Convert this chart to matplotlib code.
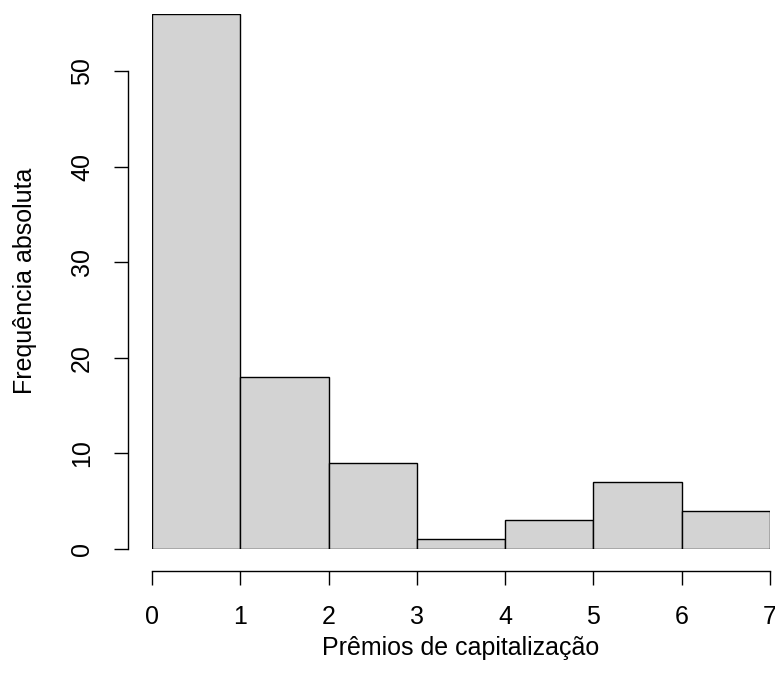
import numpy as np
import matplotlib
matplotlib.use("Agg")
import matplotlib.pyplot as plt

plt.rcParams["font.family"] = ["Liberation Sans", "DejaVu Sans"]

# histogram data
bin_edges = [0, 1, 2, 3, 4, 5, 6, 7]
counts = [56, 18, 9, 1, 3, 7, 4]
x_ticks = [0, 1, 2, 3, 4, 5, 6, 7]
y_ticks = [0, 10, 20, 30, 40, 50]

W, H = 775, 689
fig = plt.figure(figsize=(W / 100, H / 100), dpi=100)

# axes placed so data 0..7 / 0..56 lands where R put it
left, right = 152, 770
bottom, top = 549, 14
ax = fig.add_axes([left / W, 1 - bottom / H, (right - left) / W, (bottom - top) / H])

edges = np.array(bin_edges, dtype=float)
ax.bar(edges[:-1], counts, width=np.diff(edges), align="edge",
       color="#d3d3d3", edgecolor="black", linewidth=1.0)

ax.set_xlim(0, 7)
ax.set_ylim(0, 56)

px = 72 / 100  # points per pixel
for s in ["top", "right"]:
    ax.spines[s].set_visible(False)
ax.spines["bottom"].set_position(("outward", 22 * px))
ax.spines["left"].set_position(("outward", 24 * px))
ax.spines["bottom"].set_bounds(0, 7)
ax.spines["left"].set_bounds(0, 50)
for s in ["bottom", "left"]:
    ax.spines[s].set_linewidth(1.0)

fs = 18
ax.set_xticks(x_ticks)
ax.set_yticks(y_ticks)
ax.set_yticklabels([str(v) for v in y_ticks], rotation=90, va="center")
ax.tick_params(axis="both", labelsize=fs, length=14 * px, width=1.0, colors="black")
ax.tick_params(axis="both", pad=20 * px)

fig.text(461 / W, 1 - 648 / H, "Prêmios de capitalização", ha="center", va="center", fontsize=fs)
fig.text(25 / W, 1 - 281 / H, "Frequência absoluta", ha="center", va="center",
         rotation=90, fontsize=fs)

fig.savefig("out.png", dpi=100)
